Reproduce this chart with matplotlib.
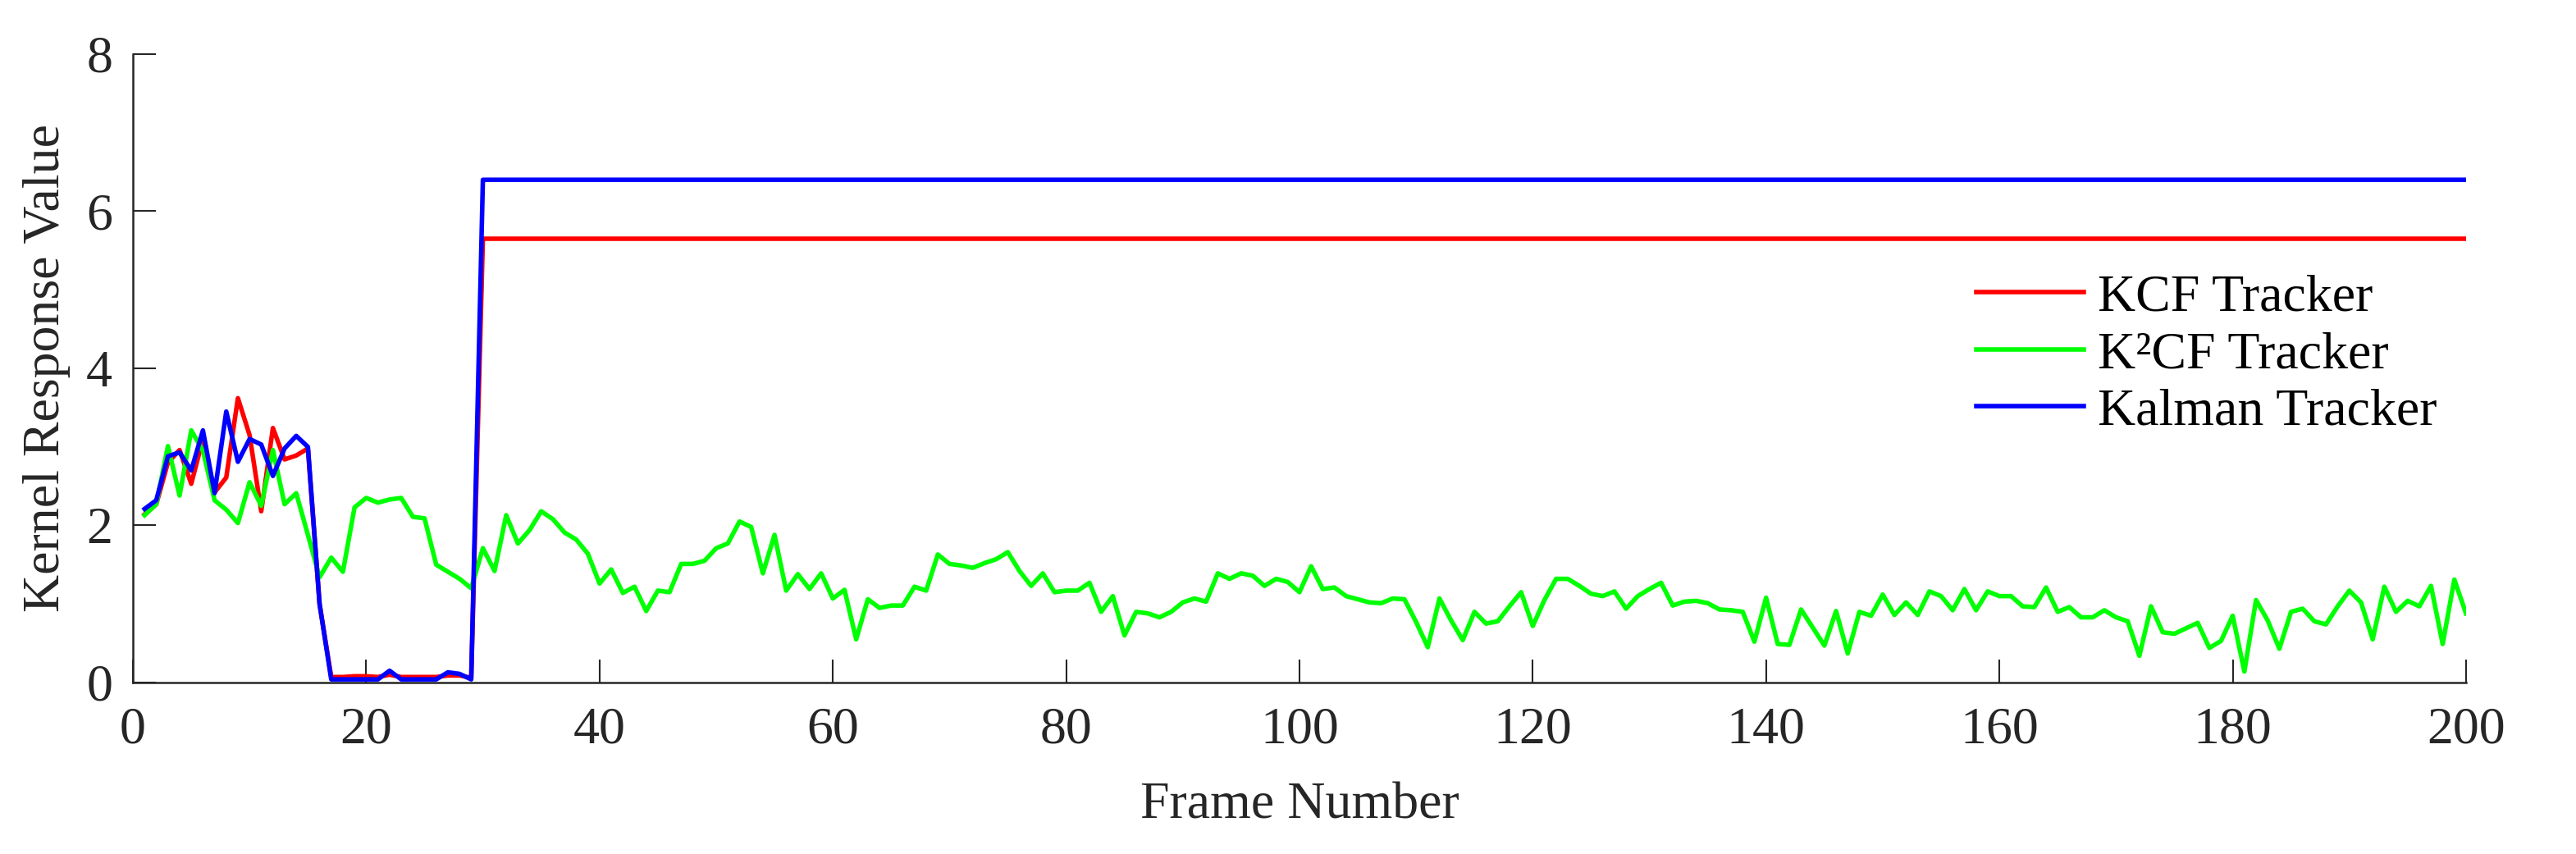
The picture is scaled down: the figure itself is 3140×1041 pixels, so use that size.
import numpy as np
import matplotlib.pyplot as plt

plt.rcParams['font.family'] = ['Liberation Serif', 'DejaVu Serif']

frames = np.arange(1, 201)

# K2CF response, frames 1..200
k2cf = [2.13, 2.27, 3.01, 2.38, 3.21, 2.95, 2.32, 2.20, 2.03, 2.55,
        2.25, 2.96, 2.27, 2.41, 1.88, 1.34, 1.59, 1.41, 2.23, 2.35,
        2.29, 2.33, 2.35, 2.11, 2.09, 1.50, 1.41, 1.32, 1.20, 1.71,
        1.42, 2.13, 1.77, 1.94, 2.18, 2.08, 1.91, 1.82, 1.64, 1.26,
        1.44, 1.14, 1.22, 0.91, 1.17, 1.15, 1.51, 1.51, 1.55, 1.71,
        1.77, 2.05, 1.98, 1.39, 1.88, 1.17, 1.38, 1.19, 1.39, 1.07,
        1.18, 0.55, 1.06, 0.95, 0.98, 0.98, 1.22, 1.17, 1.63, 1.51,
        1.49, 1.46, 1.52, 1.57, 1.66, 1.42, 1.23, 1.39, 1.15, 1.17,
        1.17, 1.27, 0.90, 1.10, 0.60, 0.90, 0.88, 0.83, 0.90, 1.02,
        1.07, 1.03, 1.39, 1.32, 1.39, 1.36, 1.23, 1.32, 1.28, 1.15,
        1.48, 1.19, 1.21, 1.10, 1.06, 1.02, 1.01, 1.07, 1.06, 0.77,
        0.45, 1.07, 0.79, 0.54, 0.90, 0.75, 0.78, 0.97, 1.15, 0.72,
        1.05, 1.32, 1.32, 1.23, 1.13, 1.10, 1.16, 0.94, 1.10, 1.19,
        1.27, 0.98, 1.03, 1.04, 1.01, 0.93, 0.92, 0.90, 0.52, 1.08,
        0.49, 0.48, 0.93, 0.70, 0.47, 0.91, 0.37, 0.90, 0.85, 1.12,
        0.86, 1.02, 0.86, 1.16, 1.10, 0.92, 1.19, 0.92, 1.16, 1.10,
        1.10, 0.97, 0.96, 1.21, 0.90, 0.96, 0.83, 0.83, 0.92, 0.83,
        0.78, 0.34, 0.97, 0.64, 0.62, 0.69, 0.76, 0.44, 0.53, 0.85,
        0.14, 1.05, 0.79, 0.43, 0.90, 0.94, 0.78, 0.74, 0.97, 1.17,
        1.02, 0.55, 1.22, 0.90, 1.04, 0.97, 1.23, 0.49, 1.31, 0.88]

# KCF and Kalman, frames 1..30, then they stay flat
kcf_head = [2.14, 2.27, 2.80, 2.96, 2.53, 3.10, 2.42, 2.61, 3.62, 3.15,
            2.18, 3.24, 2.84, 2.89, 2.98, 1.00, 0.07, 0.07, 0.08, 0.08,
            0.07, 0.10, 0.07, 0.07, 0.07, 0.07, 0.09, 0.09, 0.06, 5.65]
kcf_hold = 5.65

kalman_head = [2.21, 2.32, 2.88, 2.93, 2.70, 3.21, 2.41, 3.45, 2.81, 3.10,
               3.03, 2.63, 2.98, 3.14, 3.00, 1.00, 0.04, 0.04, 0.04, 0.04,
               0.04, 0.15, 0.04, 0.04, 0.04, 0.04, 0.13, 0.11, 0.04, 6.40]
kalman_hold = 6.40

kcf = kcf_head + [kcf_hold] * (len(frames) - len(kcf_head))
kalman = kalman_head + [kalman_hold] * (len(frames) - len(kalman_head))

fs = 46
lw = 4.0
ink = '#262626'

fig = plt.figure(figsize=(31.4, 10.41), dpi=100)
ax = fig.add_axes([0.0516, 0.2008, 0.9057, 0.7358])

ax.plot(frames, kcf, color='#ff0000', lw=lw, label='KCF Tracker')
ax.plot(frames, k2cf, color='#00ff00', lw=lw, label='K\u00b2CF Tracker')
ax.plot(frames, kalman, color='#0000ff', lw=lw, label='Kalman Tracker')

ax.set_xlim(0, 200)
ax.set_ylim(0, 8)
ax.set_xticks(np.arange(0, 201, 20))
ax.set_yticks(np.arange(0, 9, 2))

for s in ['top', 'right']:
    ax.spines[s].set_visible(False)
for s in ['left', 'bottom']:
    ax.spines[s].set_color(ink)
    ax.spines[s].set_linewidth(1.8)

ax.tick_params(direction='in', length=20, width=1.5, colors=ink,
               labelsize=fs, labelcolor=ink)
ax.tick_params(axis='x', pad=21)
ax.tick_params(axis='y', pad=18)

ax.set_xlabel('Frame Number', fontsize=fs, color=ink, labelpad=25)
ax.set_ylabel('Kernel Response Value', fontsize=fs, color=ink, labelpad=14)

ax.legend(loc='center left', bbox_to_anchor=(0.79, 0.521), frameon=False,
          fontsize=fs, handlelength=2.05, handletextpad=0.27,
          labelspacing=0.17, borderpad=0, borderaxespad=0)

fig.savefig('out.png', dpi=100)
